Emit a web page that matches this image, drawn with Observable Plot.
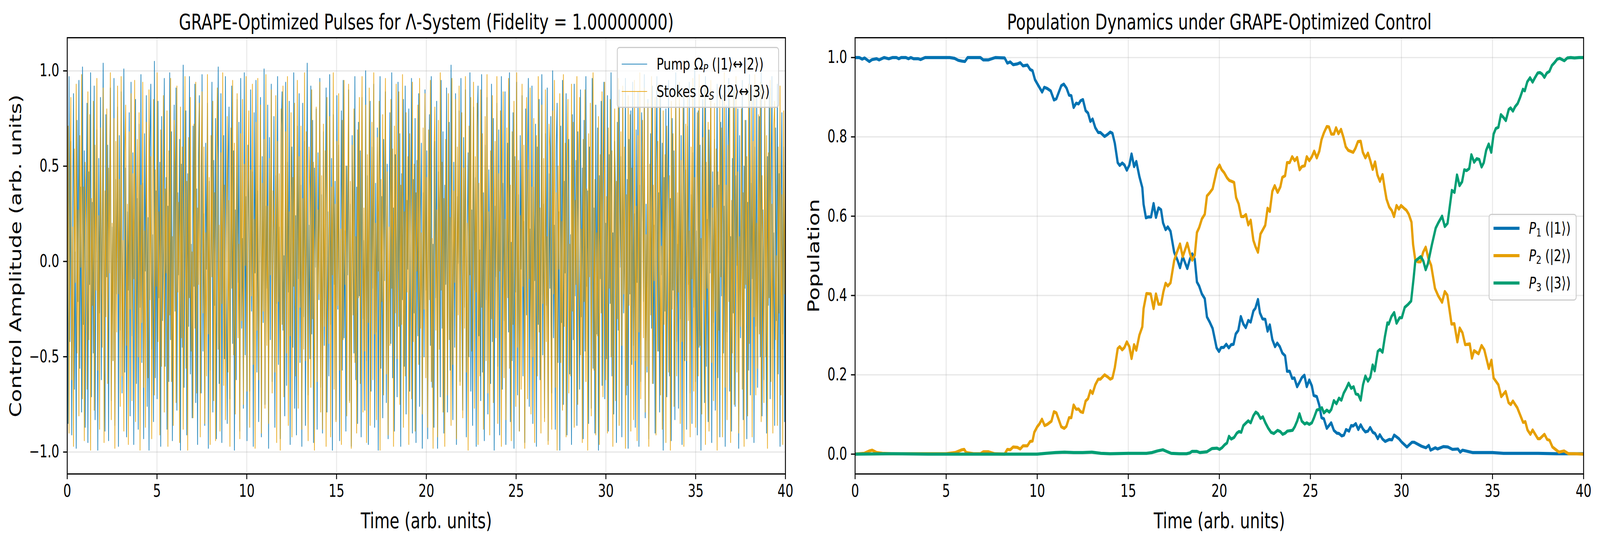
<!DOCTYPE html>
<html>
<head>
<meta charset="utf-8">
<script src="https://cdn.jsdelivr.net/npm/d3@7"></script>
<script src="https://cdn.jsdelivr.net/npm/@observablehq/plot@0.6"></script>
<style>
  html, body { margin: 0; padding: 0; background: #ffffff; overflow: hidden; }
  #fig { position: relative; width: 5605px; height: 1384px; font-family: "DejaVu Sans", sans-serif; color: #000; overflow: hidden; transform-origin: 0 0; }
  #fig svg { position: absolute; top: 0; }
  .legend { position: absolute; box-sizing: border-box; background: rgba(255,255,255,0.8); border: 3.3px solid #cccccc; border-radius: 9px; }
  .lrow { position: absolute; height: 60px; line-height: 60px; white-space: nowrap; }
  .lhandle { position: absolute; }
  .lrow sub { font-size: 70%; vertical-align: -0.25em; line-height: 0; }
</style>
</head>
<body>
<div id="fig"></div>
<script>
// ---------------- data ----------------
const timeStart = 0, timeEnd = 40;
const xTicks = [0, 5, 10, 15, 20, 25, 30, 35, 40];
const pulseYTicks = [-1.0, -0.5, 0.0, 0.5, 1.0];
const popYTicks = [0.0, 0.2, 0.4, 0.6, 0.8, 1.0];

const pulseTitle = "GRAPE-Optimized Pulses for Λ-System (Fidelity = 1.00000000)";
const popTitle = "Population Dynamics under GRAPE-Optimized Control";
const xLabel = "Time (arb. units)";
const pulseYLabel = "Control Amplitude (arb. units)";
const popYLabel = "Population";

// Pump control amplitude (800 time slices across 0..40)
const pumpValues = [
0.12,-0.85,0.97,-0.42,0.63,-0.91,0.28,0.88,-0.67,0.05,
-0.98,0.74,-0.21,0.95,-0.56,0.39,-0.79,1.02,-0.33,0.58,
-0.87,0.16,0.83,-0.95,0.47,-0.12,0.99,-0.71,0.31,-0.48,
0.92,-0.83,0.06,0.69,-0.99,0.54,-0.27,0.86,-0.62,0.21,
1.04,-0.44,-0.89,0.77,-0.08,0.61,-0.94,0.35,0.91,-0.73,
0.18,-0.52,0.96,-0.86,0.43,-0.17,0.81,-0.97,0.66,-0.36,
0.89,-0.69,0.02,1.01,-0.58,0.49,-0.92,0.26,-0.15,0.78,
-0.81,0.94,-0.39,0.57,-0.96,0.11,0.85,-0.64,0.33,-0.88,
0.72,-0.24,0.98,-0.53,0.41,-0.93,0.67,-0.05,0.87,-0.76,
0.23,-0.99,0.59,0.93,-0.46,0.14,-0.84,1.05,-0.61,0.37,
-0.72,0.84,-0.19,0.52,-0.97,0.76,-0.31,0.08,0.96,-0.55,
0.44,-0.88,0.29,-0.63,0.99,-0.41,0.68,-0.94,0.17,0.82,
-0.26,0.91,-0.78,0.36,-0.07,0.64,-0.99,0.51,-0.45,1.03,
-0.66,0.22,0.79,-0.91,0.46,-0.34,0.97,-0.59,0.09,-0.82,
0.71,-0.13,0.93,-0.74,0.38,-0.96,0.56,0.87,-0.28,-0.69,
0.98,-0.47,0.25,-0.86,0.62,-0.04,0.83,-0.98,0.42,-0.57,
0.15,0.94,-0.79,0.53,-0.23,0.75,-0.93,0.32,1.02,-0.64,
-0.37,0.88,-0.95,0.19,0.66,-0.51,0.97,-0.18,-0.85,0.48,
0.81,-0.72,0.04,0.92,-0.43,0.58,-0.99,0.27,-0.62,0.85,
-0.11,0.73,-0.89,0.96,-0.35,0.12,-0.77,0.99,-0.49,0.34,
-0.94,0.61,0.21,-0.68,0.90,-0.26,0.47,-0.97,0.78,-0.06,
0.95,-0.58,0.37,-0.84,0.13,0.86,-0.92,0.55,-0.32,1.01,
-0.75,0.29,-0.14,0.82,-0.98,0.65,-0.41,0.93,-0.63,0.07,
0.76,-0.87,0.45,-0.22,0.97,-0.54,0.18,-0.93,0.69,0.89,
-0.36,0.03,-0.81,0.94,-0.65,0.52,-0.16,0.84,-0.96,0.31,
0.60,-0.45,0.99,-0.77,0.24,-0.91,0.71,-0.09,0.88,-0.53,
0.40,-0.97,0.83,-0.29,0.63,-0.86,0.10,1.04,-0.70,0.19,
-0.51,0.92,-0.38,0.74,-0.95,0.49,-0.03,0.80,-0.88,0.57,
-0.20,0.96,-0.66,0.35,-0.90,0.68,-0.44,0.14,0.91,-0.79,
0.26,-0.60,0.98,-0.33,0.54,-0.99,0.77,-0.12,0.42,-0.83,
0.87,-0.25,0.61,-0.94,0.08,0.79,-0.57,0.95,-0.40,0.16,
-0.89,0.50,-0.07,0.90,-0.73,0.30,-0.97,0.66,0.20,-0.48,
0.97,-0.62,0.39,-0.85,0.73,-0.18,0.58,-0.92,0.86,-0.30,
0.11,-0.78,1.00,-0.52,0.45,-0.96,0.27,0.84,-0.68,0.60,
-0.14,0.93,-0.87,0.41,-0.37,0.70,-0.99,0.23,0.97,-0.56,
0.34,-0.82,0.64,-0.10,0.89,-0.74,0.51,-0.93,0.15,0.78,
-0.43,0.99,-0.61,0.28,-0.89,0.56,0.01,-0.71,0.94,-0.34,
0.67,-0.97,0.46,-0.20,0.85,-0.55,0.92,-0.80,0.32,-0.04,
0.80,-0.68,0.17,0.96,-0.90,0.43,-0.27,0.75,-0.95,0.53,
-0.39,0.88,-0.76,0.21,0.62,-0.98,0.36,-0.50,0.90,-0.15,
0.58,-0.93,0.31,0.77,-0.44,0.97,-0.66,0.09,-0.87,0.63,
-0.19,0.84,-0.98,0.47,0.22,-0.71,0.95,-0.35,0.68,-0.90,
0.40,-0.12,0.91,-0.79,0.16,0.73,-0.57,1.03,-0.26,-0.83,
0.52,-0.45,0.88,-0.96,0.34,-0.01,0.79,-0.63,0.96,-0.30,
-0.78,0.65,-0.24,0.90,-0.92,0.13,0.57,-0.50,0.99,-0.68,
0.27,-0.86,0.81,-0.15,0.44,-0.97,0.70,0.92,-0.39,0.06,
-0.73,0.98,-0.58,0.36,-0.94,0.61,-0.20,0.86,-0.80,0.48,
0.03,-0.64,0.93,-0.42,0.75,-0.99,0.29,-0.08,0.83,-0.55,
0.69,-0.91,0.18,0.97,-0.67,0.41,-0.31,0.89,-0.96,0.24,
0.62,-0.37,0.99,-0.84,0.10,-0.52,0.78,-0.98,0.55,-0.16,
0.94,-0.70,0.35,-0.89,0.66,-0.04,0.87,-0.60,0.21,-0.95,
0.80,-0.28,0.50,0.96,-0.76,0.17,-0.46,0.92,-0.85,0.39,
-0.10,0.72,-0.97,0.60,-0.33,0.85,-0.62,0.05,0.98,-0.49,
0.30,-0.82,0.67,-0.23,0.91,-0.94,0.46,-0.14,0.76,-0.69,
1.00,-0.40,0.19,-0.88,0.59,0.83,-0.53,0.26,-0.99,0.71,
-0.32,0.95,-0.75,0.42,-0.06,0.88,-0.91,0.33,0.64,-0.59,
0.14,-0.96,0.77,-0.41,0.93,-0.18,0.53,-0.86,0.68,-0.02,
-0.67,0.90,-0.29,0.49,-0.93,0.74,-0.47,0.97,-0.13,0.37,
-0.85,0.60,0.11,-0.77,0.96,-0.56,0.28,-0.90,0.82,-0.38,
0.70,-0.99,0.45,-0.09,0.84,-0.65,0.32,0.94,-0.72,0.20,
-0.51,0.87,-0.89,0.56,-0.22,0.99,-0.60,0.15,-0.80,0.63,
0.38,-0.95,0.73,-0.36,0.90,-0.03,0.55,-0.92,0.81,-0.27,
0.07,0.96,-0.70,0.43,-0.98,0.64,-0.17,0.79,-0.54,0.94,
-0.44,0.25,-0.87,0.69,-0.11,0.89,-0.97,0.40,-0.63,0.78,
0.58,-0.21,0.98,-0.82,0.30,-0.58,0.85,-0.93,0.12,0.67,
-0.35,0.92,-0.64,0.19,-0.90,0.51,0.97,-0.47,0.36,-0.79,
0.86,-0.07,0.62,-0.99,0.44,-0.26,0.80,-0.71,0.23,0.95,
-0.60,0.33,-0.94,0.75,-0.15,0.58,-0.83,0.99,-0.42,0.09,
-0.77,0.83,-0.30,0.66,-0.96,0.27,0.90,-0.52,0.48,-0.88,
0.71,-0.12,0.94,-0.69,0.35,-0.85,0.57,-0.24,1.02,-0.63,
0.16,-0.91,0.79,-0.45,0.61,-0.99,0.38,0.85,-0.20,-0.74,
0.97,-0.55,0.22,-0.84,0.69,-0.06,0.88,-0.95,0.47,-0.32,
0.64,-0.78,0.04,0.93,-0.61,0.40,-0.92,0.73,-0.18,0.87,
-0.48,0.29,-0.97,0.82,-0.37,0.60,0.96,-0.68,0.13,-0.89,
0.54,-0.27,0.91,-0.76,0.45,-0.02,0.80,-0.98,0.66,-0.40,
0.24,0.95,-0.83,0.50,-0.14,0.74,-0.93,0.31,-0.57,0.98,
-0.70,0.41,-0.09,0.87,-0.95,0.60,-0.34,0.92,-0.66,0.18,
0.76,-0.50,0.99,-0.81,0.27,-0.62,0.84,-0.05,-0.90,0.55,
-0.23,0.89,-0.72,0.37,0.97,-0.46,0.15,-0.86,0.70,-0.31,
0.93,-0.59,0.46,-0.97,0.21,0.78,-0.38,0.60,-0.84,0.34
];

// Stokes control amplitude (800 time slices across 0..40)
const stokesValues = [
-0.34,0.71,-0.90,0.45,0.86,-0.62,0.18,-0.97,0.59,-0.11,
0.93,-0.48,0.27,-0.81,0.66,-0.03,0.98,-0.72,0.39,-0.94,
0.52,0.14,-0.67,0.89,-0.41,0.77,-0.99,0.33,-0.23,0.84,
-0.78,0.61,-0.15,0.96,-0.57,0.24,-0.88,0.70,0.08,-0.45,
0.91,-0.95,0.37,-0.29,0.80,-0.64,0.49,-0.06,0.99,-0.83,
0.20,-0.52,0.75,-0.98,0.63,-0.37,0.92,-0.17,0.43,-0.76,
0.97,-0.60,0.11,-0.89,0.57,0.82,-0.44,0.30,-0.96,0.68,
-0.25,0.88,-0.73,0.46,-0.09,0.95,-0.84,0.21,0.64,-0.50,
0.78,-0.99,0.40,-0.32,0.94,-0.66,0.16,-0.87,0.73,0.02,
-0.61,0.90,-0.20,0.55,-0.93,0.34,0.85,-0.70,0.48,-0.13,
0.99,-0.42,0.26,-0.91,0.69,-0.55,0.07,0.87,-0.79,0.38,
-0.06,0.79,-0.97,0.58,-0.28,0.96,-0.63,0.13,-0.86,0.74,
0.47,-0.74,0.92,-0.16,0.31,-0.95,0.81,-0.40,0.60,-0.88,
0.23,0.97,-0.56,0.42,-0.99,0.65,-0.19,0.86,-0.47,0.05,
-0.82,0.72,-0.35,0.94,-0.69,0.28,-0.12,0.83,-0.92,0.50,
0.89,-0.27,0.60,-0.85,0.15,-0.60,0.98,-0.38,0.44,-0.96,
0.66,-0.08,0.84,-0.73,0.36,-0.94,0.53,0.91,-0.46,0.19,
-0.89,0.57,-0.22,0.99,-0.65,0.40,-0.83,0.12,0.76,-0.58,
0.32,-0.97,0.70,-0.14,0.95,-0.49,0.62,-0.80,0.25,0.88,
-0.40,0.09,-0.93,0.67,-0.31,0.85,-0.75,0.51,-0.02,0.97,
-0.68,0.35,0.79,-0.87,0.48,-0.18,0.93,-0.54,0.22,-0.98,
0.73,-0.36,0.96,-0.62,0.10,0.82,-0.90,0.41,-0.26,0.64,
-0.77,0.98,-0.44,0.29,-0.85,0.54,-0.07,0.90,-0.69,0.37,
0.16,-0.58,0.87,-0.95,0.63,-0.21,0.46,-0.99,0.80,-0.33,
0.92,-0.71,0.04,0.68,-0.48,0.97,-0.86,0.26,-0.39,0.78,
-0.92,0.44,-0.13,0.83,-0.60,0.19,0.95,-0.77,0.55,-0.24,
0.71,-0.88,0.33,-0.46,0.99,-0.52,0.68,-0.10,-0.94,0.60,
0.38,-0.66,0.90,-0.30,0.52,-0.99,0.13,0.81,-0.63,0.27,
-0.17,0.94,-0.79,0.45,-0.88,0.72,-0.34,0.58,-0.97,0.86,
0.06,-0.43,0.76,-0.92,0.39,-0.07,0.99,-0.67,0.30,-0.84,
0.63,-0.23,0.88,-0.57,0.17,-0.96,0.74,-0.41,0.95,-0.12,
0.50,-0.81,0.24,0.93,-0.74,0.42,-0.98,0.61,-0.28,0.80,
-0.53,0.13,-0.90,0.69,-0.19,0.86,-0.64,0.35,0.97,-0.79,
0.28,-0.47,0.82,-0.95,0.56,-0.32,0.91,-0.86,0.07,0.73,
-0.62,0.99,-0.38,0.20,-0.83,0.65,-0.05,0.84,-0.99,0.43,
-0.21,0.77,-0.70,0.32,0.96,-0.59,0.47,-0.91,0.18,-0.44,
0.85,-0.14,0.59,-0.97,0.71,-0.27,0.93,-0.51,0.04,0.89,
-0.75,0.40,-0.33,0.98,-0.87,0.26,-0.60,0.78,-0.16,0.55,
-0.96,0.67,0.09,-0.72,0.94,-0.42,0.51,-0.89,0.36,-0.05,
0.82,-0.54,0.96,-0.35,0.15,-0.80,0.70,-0.25,0.88,-0.61,
0.44,-0.87,0.69,-0.20,0.95,-0.63,0.12,-0.98,0.57,0.81,
-0.36,0.27,-0.92,0.74,-0.46,0.99,-0.15,0.52,-0.79,0.33,
-0.97,0.64,0.08,-0.70,0.88,-0.41,0.23,-0.86,0.96,-0.54,
0.37,-0.11,0.85,-0.93,0.60,-0.28,0.92,-0.65,0.14,0.78,
-0.82,0.49,-0.35,0.97,-0.58,0.20,-0.99,0.71,-0.07,0.86,
-0.47,0.30,0.94,-0.77,0.55,-0.16,0.83,-0.96,0.41,-0.60,
0.90,-0.24,0.67,-0.88,0.03,0.76,-0.52,0.98,-0.69,0.26,
-0.91,0.58,-0.30,0.87,-0.74,0.15,0.63,-0.40,0.97,-0.85,
0.46,-0.05,0.79,-0.97,0.35,0.89,-0.61,0.22,-0.83,0.70,
-0.19,0.96,-0.56,0.40,-0.94,0.68,-0.33,0.84,0.10,-0.76,
0.99,-0.45,0.53,-0.89,0.24,-0.67,0.93,-0.13,0.61,-0.98,
0.31,0.86,-0.72,0.48,-0.09,0.91,-0.80,0.39,-0.50,0.75,
-0.95,0.18,0.66,-0.60,0.97,-0.37,0.28,-0.90,0.82,-0.22,
0.54,-0.84,0.90,-0.42,0.13,-0.96,0.72,0.60,-0.31,-0.88,
0.79,-0.17,0.95,-0.66,0.36,-0.99,0.50,-0.04,0.88,-0.53,
0.21,-0.78,0.98,-0.34,0.62,-0.92,0.45,0.85,-0.69,0.09,
-0.60,0.93,-0.26,0.73,-0.87,0.32,-0.12,0.97,-0.75,0.47,
0.86,-0.49,0.17,-0.95,0.64,-0.21,0.90,-0.63,0.38,-0.99,
0.67,-0.08,0.83,-0.81,0.26,0.99,-0.57,0.43,-0.91,0.15,
-0.39,0.76,-0.96,0.56,-0.27,0.89,-0.71,0.05,0.94,-0.62,
0.34,-0.90,0.70,-0.14,0.85,-0.50,0.58,-0.97,0.23,0.80,
-0.73,0.42,-0.30,0.96,-0.86,0.11,0.68,-0.44,0.92,-0.17,
0.60,-0.98,0.35,-0.65,0.87,-0.23,0.77,-0.89,0.49,-0.06,
-0.83,0.95,-0.52,0.29,-0.94,0.66,-0.37,0.99,-0.72,0.20,
0.74,-0.40,0.91,-0.79,0.14,-0.55,0.83,-0.97,0.51,-0.28,
0.97,-0.64,0.40,-0.10,0.86,-0.91,0.25,0.63,-0.47,0.93,
-0.70,0.08,-0.88,0.79,-0.33,0.56,-0.95,0.71,0.19,-0.58,
0.45,-0.99,0.84,-0.25,0.67,-0.76,0.02,0.90,-0.60,0.36,
-0.16,0.94,-0.85,0.53,-0.42,0.81,-0.97,0.30,0.72,-0.52,
0.87,-0.31,0.16,-0.92,0.60,-0.09,0.96,-0.68,0.44,-0.87,
0.27,0.78,-0.60,0.98,-0.44,0.12,-0.80,0.65,-0.20,0.91,
-0.96,0.52,-0.14,0.73,-0.89,0.37,0.95,-0.53,0.28,-0.73,
0.83,-0.26,0.59,-0.99,0.47,-0.36,0.89,-0.08,0.70,-0.92,
0.18,0.99,-0.66,0.40,-0.83,0.61,-0.21,0.85,-0.95,0.32,
-0.48,0.90,-0.75,0.22,0.97,-0.58,0.47,-0.90,0.13,-0.34,
0.80,-0.67,0.36,-0.97,0.74,-0.12,0.55,-0.81,0.93,-0.43,
0.10,0.87,-0.92,0.63,-0.29,0.98,-0.70,0.20,-0.56,0.77,
-0.38,0.94,-0.84,0.45,0.06,-0.74,0.89,-0.50,0.66,-0.98,
0.57,-0.19,0.95,-0.63,0.30,-0.90,0.71,0.84,-0.41,0.03,
-0.86,0.60,-0.27,0.92,-0.70,0.35,-0.96,0.79,-0.17,0.52
];

// Populations: [time, value] pairs
const pop1 = [[0,1.0],[0.23,1.0],[0.39,0.996],[0.52,0.999],[0.78,0.99],[0.94,0.995],[1.18,0.997],[1.32,0.994],[1.59,1.0],[1.85,0.997],[2.06,1.0],[2.27,1.0],[2.4,0.997],[2.53,1.0],[2.79,1.0],[2.93,0.997],[3.06,1.0],[3.21,0.997],[3.47,0.997],[3.6,0.995],[3.84,1.0],[4.1,1.0],[4.6,1.0],[5.2,1.0],[5.46,0.998],[5.67,0.993],[5.87,0.991],[6.03,0.99],[6.18,1.0],[6.53,1.0],[6.88,1.0],[7.04,0.994],[7.31,0.994],[7.7,1.0],[8.21,0.999],[8.36,0.986],[8.52,0.989],[8.68,0.982],[8.91,0.984],[9.07,0.987],[9.22,0.979],[9.46,0.981],[9.61,0.97],[9.74,0.967],[9.88,0.944],[10.08,0.928],[10.27,0.913],[10.39,0.925],[10.55,0.922],[10.74,0.916],[10.92,0.893],[11.05,0.896],[11.32,0.929],[11.46,0.933],[11.61,0.923],[11.75,0.905],[11.87,0.904],[12.0,0.874],[12.14,0.885],[12.27,0.883],[12.38,0.891],[12.51,0.894],[12.66,0.866],[12.79,0.86],[12.92,0.839],[13.04,0.845],[13.19,0.823],[13.35,0.811],[13.47,0.811],[13.7,0.801],[13.86,0.806],[14.01,0.812],[14.13,0.809],[14.26,0.784],[14.42,0.735],[14.53,0.728],[14.67,0.734],[14.79,0.729],[14.92,0.716],[15.06,0.729],[15.18,0.757],[15.32,0.725],[15.44,0.738],[15.61,0.7],[15.77,0.672],[15.84,0.63],[15.97,0.596],[16.09,0.598],[16.25,0.598],[16.39,0.632],[16.52,0.597],[16.66,0.621],[16.8,0.616],[16.91,0.583],[17.05,0.566],[17.17,0.573],[17.32,0.562],[17.52,0.509],[17.71,0.488],[17.84,0.47],[17.99,0.498],[18.24,0.468],[18.38,0.491],[18.51,0.505],[18.65,0.491],[18.77,0.434],[18.89,0.424],[19.04,0.404],[19.2,0.392],[19.32,0.346],[19.47,0.333],[19.63,0.317],[19.85,0.268],[19.98,0.259],[20.1,0.269],[20.24,0.269],[20.38,0.277],[20.52,0.268],[20.65,0.276],[20.78,0.277],[20.9,0.303],[21.04,0.312],[21.18,0.347],[21.32,0.328],[21.45,0.319],[21.59,0.337],[21.72,0.333],[21.87,0.361],[21.98,0.368],[22.12,0.39],[22.23,0.356],[22.37,0.341],[22.52,0.34],[22.65,0.31],[22.77,0.326],[22.91,0.289],[23.06,0.271],[23.18,0.28],[23.32,0.271],[23.46,0.255],[23.61,0.248],[23.72,0.209],[23.86,0.209],[24.0,0.191],[24.12,0.192],[24.27,0.17],[24.4,0.181],[24.53,0.193],[24.67,0.199],[24.8,0.17],[24.94,0.187],[25.08,0.172],[25.18,0.148],[25.35,0.145],[25.49,0.123],[25.61,0.092],[25.74,0.089],[25.9,0.065],[26.14,0.079],[26.29,0.06],[26.45,0.053],[26.57,0.052],[26.72,0.046],[26.84,0.048],[26.96,0.062],[27.12,0.058],[27.24,0.072],[27.35,0.071],[27.49,0.077],[27.63,0.062],[27.76,0.074],[27.89,0.063],[28.02,0.056],[28.16,0.058],[28.28,0.067],[28.43,0.055],[28.55,0.052],[28.7,0.039],[28.81,0.049],[28.96,0.038],[29.11,0.032],[29.33,0.037],[29.48,0.036],[29.6,0.048],[29.86,0.039],[30.02,0.03],[30.3,0.018],[30.58,0.03],[30.7,0.03],[31.1,0.02],[31.34,0.016],[31.5,0.022],[31.6,0.01],[31.86,0.016],[31.98,0.013],[32.3,0.019],[32.55,0.018],[32.8,0.012],[33.1,0.013],[33.23,0.005],[33.35,0.01],[33.9,0.004],[34.5,0.004],[35.0,0.004],[35.3,0.003],[35.6,0.002],[36.5,0.002],[37.5,0.002],[38.5,0.001],[40,0.001]];

const pop2 = [[0,0.0],[0.5,0.002],[0.78,0.008],[0.94,0.01],[1.18,0.004],[1.5,0.002],[2.0,0.001],[3.0,0.001],[4.0,0.001],[5.0,0.001],[5.5,0.004],[5.87,0.011],[5.99,0.012],[6.1,0.004],[6.5,0.001],[6.88,0.001],[7.04,0.006],[7.31,0.006],[7.66,0.001],[8.21,0.0],[8.36,0.012],[8.52,0.011],[8.68,0.018],[8.91,0.017],[9.07,0.013],[9.22,0.021],[9.46,0.021],[9.61,0.032],[9.74,0.033],[9.84,0.055],[10.0,0.069],[10.12,0.076],[10.26,0.088],[10.41,0.072],[10.55,0.075],[10.78,0.083],[10.92,0.107],[11.05,0.104],[11.32,0.069],[11.48,0.065],[11.6,0.07],[11.75,0.092],[11.87,0.092],[12.0,0.124],[12.14,0.113],[12.27,0.114],[12.38,0.107],[12.51,0.105],[12.66,0.134],[12.79,0.14],[12.92,0.16],[13.04,0.153],[13.19,0.175],[13.35,0.189],[13.47,0.189],[13.7,0.2],[13.86,0.195],[14.01,0.189],[14.13,0.192],[14.26,0.218],[14.42,0.266],[14.53,0.271],[14.67,0.263],[14.79,0.269],[14.92,0.283],[15.06,0.271],[15.18,0.241],[15.32,0.276],[15.44,0.262],[15.61,0.3],[15.77,0.321],[15.84,0.367],[16.0,0.405],[16.23,0.404],[16.39,0.367],[16.52,0.404],[16.66,0.378],[16.8,0.378],[16.93,0.41],[17.05,0.431],[17.17,0.424],[17.32,0.432],[17.52,0.488],[17.67,0.509],[17.84,0.53],[17.99,0.498],[18.24,0.532],[18.38,0.507],[18.51,0.489],[18.65,0.502],[18.77,0.559],[18.89,0.571],[19.04,0.593],[19.2,0.605],[19.32,0.651],[19.47,0.659],[19.63,0.669],[19.87,0.718],[20.01,0.729],[20.13,0.717],[20.26,0.71],[20.42,0.697],[20.55,0.69],[20.67,0.688],[20.81,0.685],[20.92,0.647],[21.06,0.631],[21.2,0.599],[21.33,0.599],[21.46,0.604],[21.59,0.578],[21.72,0.59],[21.87,0.539],[21.98,0.524],[22.12,0.509],[22.26,0.555],[22.39,0.566],[22.52,0.577],[22.65,0.62],[22.77,0.612],[22.91,0.663],[23.04,0.677],[23.2,0.66],[23.35,0.674],[23.46,0.698],[23.61,0.702],[23.72,0.735],[23.86,0.735],[24.0,0.75],[24.14,0.74],[24.27,0.748],[24.41,0.717],[24.53,0.725],[24.69,0.727],[24.8,0.75],[24.94,0.74],[25.08,0.75],[25.21,0.764],[25.35,0.747],[25.49,0.764],[25.61,0.793],[25.74,0.81],[25.9,0.826],[26.02,0.825],[26.15,0.807],[26.29,0.807],[26.41,0.823],[26.54,0.808],[26.68,0.819],[26.82,0.798],[26.94,0.775],[27.08,0.766],[27.35,0.761],[27.47,0.771],[27.61,0.788],[27.76,0.789],[27.88,0.761],[28.02,0.747],[28.16,0.759],[28.29,0.74],[28.42,0.718],[28.55,0.737],[28.68,0.704],[28.82,0.688],[28.96,0.705],[29.09,0.667],[29.18,0.643],[29.33,0.623],[29.47,0.614],[29.59,0.599],[29.73,0.627],[29.86,0.618],[29.98,0.627],[30.14,0.62],[30.27,0.615],[30.4,0.605],[30.55,0.585],[30.64,0.528],[30.76,0.489],[30.9,0.485],[31.05,0.485],[31.19,0.509],[31.33,0.522],[31.47,0.495],[31.63,0.476],[31.84,0.418],[32.02,0.399],[32.23,0.383],[32.38,0.41],[32.52,0.401],[32.75,0.328],[32.9,0.329],[33.07,0.283],[33.2,0.318],[33.35,0.306],[33.5,0.276],[33.75,0.278],[33.87,0.242],[33.99,0.261],[34.23,0.253],[34.4,0.274],[34.55,0.263],[34.8,0.216],[34.94,0.237],[35.06,0.192],[35.32,0.175],[35.48,0.145],[35.72,0.158],[35.88,0.13],[36.0,0.125],[36.12,0.134],[36.36,0.117],[36.68,0.08],[36.8,0.082],[36.92,0.061],[37.08,0.05],[37.2,0.061],[37.49,0.039],[37.6,0.039],[37.85,0.05],[38.0,0.037],[38.13,0.035],[38.29,0.018],[38.65,0.005],[38.93,0.008],[39.17,0.001],[39.5,0.001],[40,0.0]];

const pop3 = [[0,0.0],[2,0.001],[4,0.0],[6,0.0],[8,0.0],[10,0.0],[10.47,0.002],[11,0.004],[11.5,0.005],[12,0.004],[12.5,0.004],[13,0.005],[13.5,0.002],[14,0.001],[15,0.002],[16,0.002],[16.31,0.004],[16.6,0.008],[16.9,0.011],[17.05,0.008],[17.36,0.002],[17.8,0.001],[18.2,0.001],[18.38,0.003],[18.5,0.007],[18.77,0.007],[18.93,0.004],[19.32,0.006],[19.59,0.014],[19.87,0.015],[20.01,0.012],[20.14,0.016],[20.3,0.024],[20.42,0.028],[20.53,0.045],[20.65,0.038],[20.81,0.042],[20.96,0.053],[21.08,0.057],[21.2,0.055],[21.32,0.072],[21.45,0.078],[21.59,0.084],[21.72,0.079],[21.87,0.097],[22.0,0.106],[22.12,0.102],[22.26,0.09],[22.39,0.094],[22.53,0.079],[22.69,0.065],[22.84,0.055],[22.99,0.052],[23.2,0.06],[23.34,0.057],[23.48,0.05],[23.62,0.053],[23.73,0.058],[24.02,0.06],[24.14,0.069],[24.27,0.083],[24.4,0.102],[24.53,0.083],[24.69,0.076],[24.8,0.079],[24.94,0.075],[25.08,0.079],[25.2,0.092],[25.35,0.111],[25.49,0.113],[25.63,0.117],[25.74,0.104],[25.9,0.111],[26.04,0.106],[26.15,0.113],[26.29,0.135],[26.43,0.127],[26.57,0.141],[26.7,0.136],[26.83,0.154],[26.96,0.165],[27.1,0.179],[27.24,0.166],[27.37,0.17],[27.49,0.152],[27.63,0.15],[27.76,0.136],[27.89,0.175],[28.02,0.197],[28.16,0.184],[28.29,0.194],[28.42,0.225],[28.53,0.21],[28.7,0.259],[28.82,0.264],[28.96,0.257],[29.09,0.296],[29.23,0.331],[29.3,0.328],[29.45,0.347],[29.6,0.357],[29.73,0.33],[29.9,0.344],[30.02,0.344],[30.18,0.37],[30.35,0.377],[30.53,0.386],[30.67,0.445],[30.76,0.487],[31.06,0.498],[31.2,0.487],[31.33,0.465],[31.45,0.48],[31.67,0.528],[31.88,0.57],[32.02,0.583],[32.23,0.6],[32.38,0.574],[32.53,0.582],[32.77,0.665],[32.91,0.66],[33.05,0.704],[33.19,0.677],[33.33,0.687],[33.45,0.717],[33.58,0.715],[33.72,0.72],[33.84,0.755],[33.99,0.736],[34.13,0.745],[34.27,0.743],[34.4,0.724],[34.52,0.735],[34.65,0.766],[34.79,0.782],[34.93,0.761],[35.06,0.807],[35.18,0.821],[35.32,0.824],[35.46,0.856],[35.6,0.849],[35.73,0.841],[35.89,0.869],[35.99,0.873],[36.12,0.865],[36.24,0.876],[36.38,0.884],[36.52,0.9],[36.67,0.92],[36.77,0.916],[36.91,0.939],[37.06,0.949],[37.2,0.938],[37.34,0.95],[37.48,0.961],[37.61,0.962],[37.73,0.958],[37.85,0.95],[37.98,0.961],[38.12,0.965],[38.26,0.98],[38.4,0.987],[38.55,0.996],[38.69,0.998],[38.94,0.992],[39.11,0.999],[39.29,1.0],[39.5,0.999],[39.75,1.0],[40,1.0]];

const pulseSeries = [
  {name: "Pump", label: 'Pump Ω<sub><i>P</i></sub> (|1⟩↔|2⟩)', color: "#0072B2", values: pumpValues},
  {name: "Stokes", label: 'Stokes Ω<sub><i>S</i></sub> (|2⟩↔|3⟩)', color: "#E69F00", values: stokesValues}
];
const popSeries = [
  {name: "P1", label: '<i>P</i><sub>1</sub> (|1⟩)', color: "#0072B2", values: pop1},
  {name: "P2", label: '<i>P</i><sub>2</sub> (|2⟩)', color: "#E69F00", values: pop2},
  {name: "P3", label: '<i>P</i><sub>3</sub> (|3⟩)', color: "#009E73", values: pop3}
];

// ---------------- layout ----------------
const FIG_W = 5605, FIG_H = 1384;
const PT = 285 / 72;           // px per point in the reference raster
const tickFont = 11 * PT, labelFont = 14 * PT, legendFont = 41.7;
const spineW = 0.8 * PT, tickLen = 3.5 * PT, tickPad = 3.5 * PT;
const mTop = 96, mBottom = FIG_H - 1212;

const fmtSigned = d => d.toFixed(1).replace("-", "\u2212");

function commonMarks(yTicks, title, yLabel, yLabelDx) {
  const gridStyle = {stroke: "#b0b0b0", strokeOpacity: 0.3, strokeWidth: spineW};
  return {
    grid: [Plot.gridX(xTicks, gridStyle), Plot.gridY(yTicks, gridStyle)],
    deco: [
      Plot.frame({stroke: "black", strokeWidth: spineW}),
      Plot.axisX(xTicks, {anchor: "bottom", label: null, tickSize: tickLen, tickPadding: tickPad, strokeWidth: spineW, fontSize: tickFont, tickFormat: d => String(d), fill: "black"}),
      Plot.axisY(yTicks, {anchor: "left", label: null, tickSize: tickLen, tickPadding: tickPad, strokeWidth: spineW, fontSize: tickFont, tickFormat: fmtSigned, fill: "black"}),
      Plot.text([title], {frameAnchor: "top", textAnchor: "middle", dy: 74 - mTop, lineAnchor: "bottom", fontSize: labelFont, text: d => d, fill: "black"}),
      Plot.text([xLabel], {frameAnchor: "bottom", textAnchor: "middle", dy: 1350 - 1212, lineAnchor: "bottom", fontSize: labelFont, text: d => d, fill: "black"}),
      Plot.text([yLabel], {frameAnchor: "left", textAnchor: "middle", dx: yLabelDx, rotate: -90, lineAnchor: "bottom", fontSize: labelFont, text: d => d, fill: "black"})
    ]
  };
}

const n = pumpValues.length;
const pulseRows = pulseSeries.map(s => s.values.map((v, i) => ({t: timeStart + i * (timeEnd - timeStart) / (n - 1), v})));

const left = commonMarks(pulseYTicks, pulseTitle, pulseYLabel, 73 - 235);
const plotLeft = Plot.plot({
  width: 2800, height: FIG_H,
  marginLeft: 235, marginRight: 2800 - 2751, marginTop: mTop, marginBottom: mBottom,
  x: {domain: [timeStart, timeEnd]},
  y: {domain: [-1.115, 1.174]},
  style: {fontFamily: "'DejaVu Sans', sans-serif", background: "transparent", color: "black", overflow: "visible"},
  marks: [
    ...left.grid,
    ...pulseSeries.map((s, k) => Plot.line(pulseRows[k], {x: "t", y: "v", stroke: s.color, strokeOpacity: 0.85, strokeWidth: 2.6, clip: true})),
    ...left.deco
  ]
});
plotLeft.style.left = "0px";

const right = commonMarks(popYTicks, popTitle, popYLabel, 2869 - 2995);
const plotRight = Plot.plot({
  width: 2805, height: FIG_H,
  marginLeft: 2995 - 2800, marginRight: 2805 - (5547 - 2800), marginTop: mTop, marginBottom: mBottom,
  x: {domain: [timeStart, timeEnd]},
  y: {domain: [-0.05, 1.05]},
  style: {fontFamily: "'DejaVu Sans', sans-serif", background: "transparent", color: "black", overflow: "visible"},
  marks: [
    ...right.grid,
    ...popSeries.map(s => Plot.line(s.values, {x: d => d[0], y: d => d[1], stroke: s.color, strokeWidth: 2 * PT, clip: true})),
    ...right.deco
  ]
});
plotRight.style.left = "2800px";

const fig = document.getElementById("fig");
fig.appendChild(plotLeft);
fig.appendChild(plotRight);

// ---------------- legends ----------------
function legend(series, box, handle, textX, rowCenters, lineW, opacity) {
  const div = document.createElement("div");
  div.className = "legend";
  Object.assign(div.style, {left: box.x + "px", top: box.y + "px", width: box.w + "px", height: box.h + "px"});
  fig.appendChild(div);
  series.forEach((s, i) => {
    const h = document.createElement("div");
    h.className = "lhandle";
    Object.assign(h.style, {left: handle[0] + "px", width: (handle[1] - handle[0]) + "px", top: (rowCenters[i] - lineW / 2) + "px", height: lineW + "px", background: s.color, opacity: opacity});
    fig.appendChild(h);
    const r = document.createElement("div");
    r.className = "lrow";
    Object.assign(r.style, {left: textX + "px", top: (rowCenters[i] - 30) + "px", fontSize: legendFont + "px"});
    r.innerHTML = "<span>" + s.label + "</span>";
    fig.appendChild(r);
  });
}
legend(pulseSeries, {x: 2161, y: 120, w: 2729 - 2161, h: 156}, [2178, 2267], 2300, [164, 234], 2.6, 0.85);
legend(popSeries, {x: 5215, y: 547, w: 5523 - 5215, h: 222}, [5232, 5323], 5356, [584, 654, 724], 2 * PT, 1);

// map the 5605x1384 figure onto the whole viewport that is photographed
function fit() {
  const vw = window.innerWidth || document.documentElement.clientWidth || FIG_W;
  const vh = window.innerHeight || document.documentElement.clientHeight || FIG_H;
  const sx = vw / FIG_W, sy = vh / FIG_H;
  fig.style.transform = "scale(" + sx + "," + sy + ")";
  document.body.style.width = vw + "px";
  document.body.style.height = vh + "px";
}
fit();
window.addEventListener("resize", fit);
</script>
</body>
</html>
